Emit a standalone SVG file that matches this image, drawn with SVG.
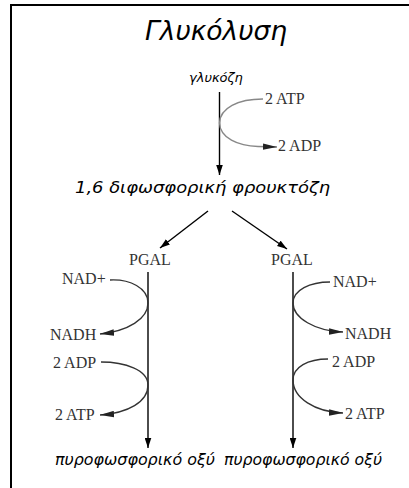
<svg xmlns="http://www.w3.org/2000/svg" width="409" height="488" viewBox="0 0 409 488">
<defs>
<style>
.sans{font-family:"DejaVu Sans","Noto Sans",sans-serif;font-style:italic;fill:#000}
.serif{font-family:"Liberation Serif","Times New Roman",serif;font-size:16px;fill:#333}
.line{fill:none;stroke:#000;stroke-width:1.4}
.curve{fill:none;stroke:#333;stroke-width:1.4}
.curve-light{fill:none;stroke:#888;stroke-width:1.4}
</style>
<marker id="head" viewBox="-10 -3.5 10 7" markerWidth="10" markerHeight="7" refX="0" refY="0" orient="auto" markerUnits="userSpaceOnUse">
<path d="M0,0 L-10,-3.3 L-10,3.3 Z" fill="#000"/>
</marker>
<marker id="thin" viewBox="-14 -3.5 14 7" markerWidth="14" markerHeight="7" refX="0" refY="0" orient="auto" markerUnits="userSpaceOnUse">
<path d="M0,0 L-14,-3.2 L-14,3.2 Z" fill="#222"/>
</marker>
</defs>
<rect x="0" y="0" width="409" height="488" fill="#fff"/>
<path d="M11 488 L11 5 L409 5" fill="none" stroke="#000" stroke-width="2"/>

<g id="title"><text class="sans" x="145" y="40" font-size="26" textLength="142" lengthAdjust="spacingAndGlyphs">Γλυκόλυση</text></g>
<g id="glucose"><text class="sans" x="189" y="82" font-size="13">γλυκόζη</text></g>
<g id="atp-in-top"><text class="serif" x="265" y="104">2 ATP</text></g>
<g id="adp-out-top"><text class="serif" x="278" y="151">2 ADP</text></g>
<g id="fructose"><text class="sans" x="75" y="193" font-size="16" textLength="255" lengthAdjust="spacingAndGlyphs">1,6 διφωσφορική φρουκτόζη</text></g>
<g id="pgal-left"><text class="serif" x="129" y="265">PGAL</text></g>
<g id="pgal-right"><text class="serif" x="271" y="265">PGAL</text></g>
<g id="nad-left"><text class="serif" x="62" y="284">NAD+</text></g>
<g id="nadh-left"><text class="serif" x="50" y="340">NADH</text></g>
<g id="adp-left"><text class="serif" x="53" y="368">2 ADP</text></g>
<g id="atp-left"><text class="serif" x="55" y="420">2 ATP</text></g>
<g id="nad-right"><text class="serif" x="333" y="287">NAD+</text></g>
<g id="nadh-right"><text class="serif" x="345" y="339">NADH</text></g>
<g id="adp-right"><text class="serif" x="332" y="367">2 ADP</text></g>
<g id="atp-right"><text class="serif" x="345" y="419">2 ATP</text></g>
<g id="pyruvate-left"><text class="sans" x="55" y="465" font-size="15" textLength="160" lengthAdjust="spacingAndGlyphs">πυροφωσφορικό οξύ</text></g>
<g id="pyruvate-right"><text class="sans" x="224" y="465" font-size="15" textLength="158" lengthAdjust="spacingAndGlyphs">πυροφωσφορικό οξύ</text></g>

<g id="connectors">
<path class="line" d="M219.5 92 L219.5 175" marker-end="url(#head)"/>
<path class="curve-light" d="M263 99 C238 99 220 108 219.5 123 C220 138 238 146 258 146.5 L277 147" marker-end="url(#thin)"/>
<path class="line" d="M208 211 L160 248" marker-end="url(#head)"/>
<path class="line" d="M232 211 L287 249" marker-end="url(#head)"/>
<path class="line" d="M148 272 L148 448" marker-end="url(#head)"/>
<path class="line" d="M293 272 L293 448" marker-end="url(#head)"/>
<path class="curve" d="M110 280 C130 279 148 288 148 303 C148 319 128 331 100 334" marker-end="url(#thin)"/>
<path class="curve" d="M101 362 C125 362 148 370 148 385 C148 402 128 413 100 415" marker-end="url(#thin)"/>
<path class="curve" d="M330 282 C310 282 293 290 293 303 C293 318 315 331 343 332" marker-end="url(#thin)"/>
<path class="curve" d="M328 359 C308 359 293 367 293 380 C293 398 315 412 343 413" marker-end="url(#thin)"/>
</g>
</svg>
